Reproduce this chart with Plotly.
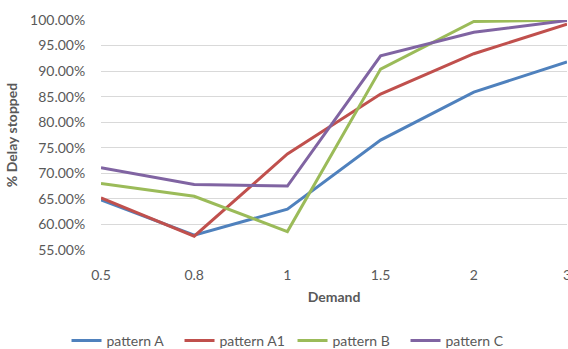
import plotly.graph_objects as go

# Demand levels (category axis) and share of delay stopped per pattern
demand = ["0.5", "0.8", "1", "1.5", "2", "3"]
pattern_a = [0.648, 0.579, 0.630, 0.765, 0.859, 0.918]
pattern_a1 = [0.652, 0.577, 0.738, 0.855, 0.934, 0.992]
pattern_b = [0.680, 0.655, 0.586, 0.904, 0.997, 1.000]
pattern_c = [0.711, 0.678, 0.675, 0.930, 0.976, 0.999]

series = [
    ("pattern A", pattern_a, "#4F81BD"),
    ("pattern A1", pattern_a1, "#C0504D"),
    ("pattern B", pattern_b, "#9BBB59"),
    ("pattern C", pattern_c, "#8064A2"),
]

font_family = "Lato, 'Open Sans', sans-serif"
gray = "#595959"

fig = go.Figure()
for name, vals, color in series:
    fig.add_trace(go.Scatter(
        x=demand, y=vals, name=name, mode="lines",
        line=dict(color=color, width=3),
    ))

fig.update_layout(
    width=568, height=349,
    margin=dict(l=101, r=1, t=20, b=99),
    paper_bgcolor="white", plot_bgcolor="white",
    font=dict(family=font_family, size=14, color=gray),
    showlegend=True,
    legend=dict(
        orientation="h", xref="container", x=0.515, xanchor="center",
        yref="container", y=0.023, yanchor="middle",
        font=dict(size=14, color=gray),
        itemwidth=30, entrywidth=68, entrywidthmode="pixels",
    ),
)

fig.update_xaxes(
    type="category", range=[0, 5], automargin=False,
    showgrid=False, zeroline=False, showline=False,
    ticks="outside", ticklen=12, tickcolor="rgba(0,0,0,0)",
    tickfont=dict(size=14, color=gray),
    title=dict(text="<b>Demand</b>", font=dict(size=14, color=gray), standoff=10),
)
fig.update_yaxes(
    range=[0.55, 1.0], dtick=0.05, tickformat=".2%", automargin=False,
    showgrid=True, gridcolor="#D9D9D9", gridwidth=1,
    zeroline=False, showline=False,
    ticks="outside", ticklen=12, tickcolor="rgba(0,0,0,0)",
    tickfont=dict(size=14, color=gray),
    title=dict(text="<b>% Delay stopped</b>", font=dict(size=14, color=gray), standoff=9),
)

fig.write_html("out.html")
